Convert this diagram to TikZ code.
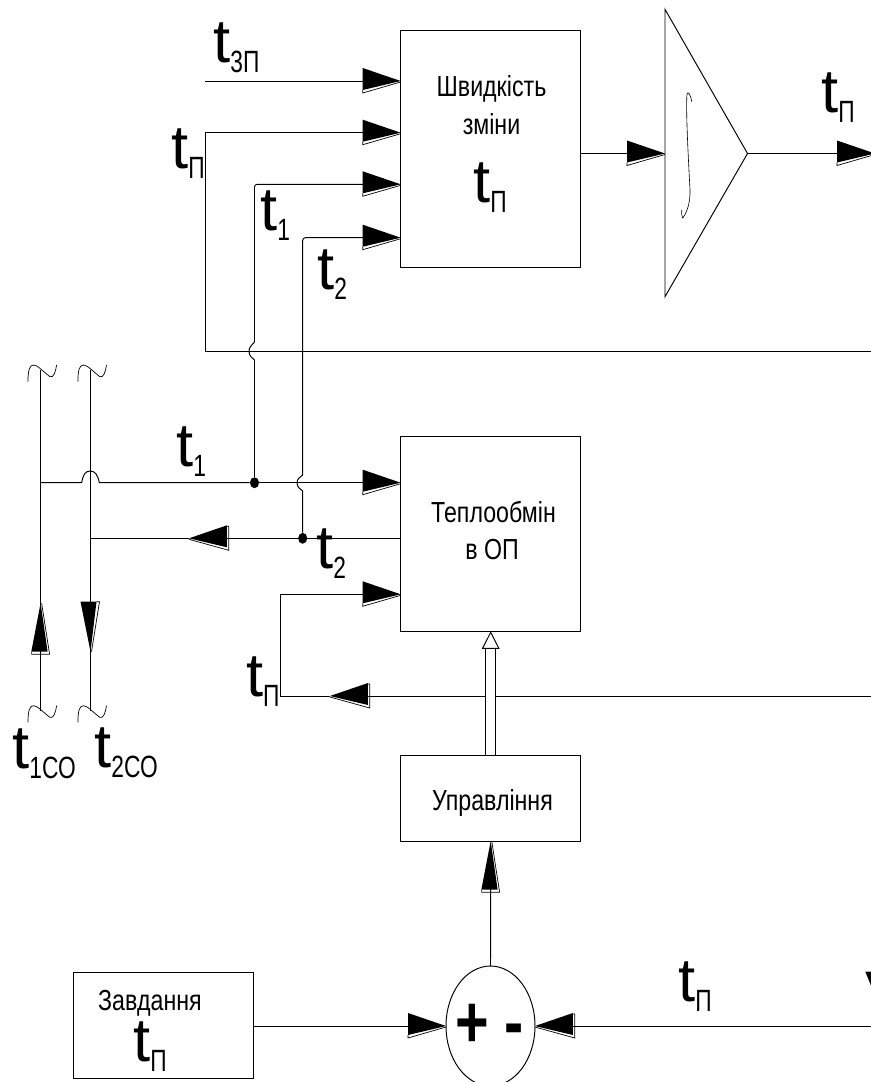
\documentclass[tikz,border=0pt]{standalone}
\usepackage{fontspec}
\setmainfont{Liberation Sans}
\newfontfamily\boxfont{Liberation Sans}[FakeStretch=0.8]
\newfontfamily\subfont{Liberation Sans}[FakeStretch=0.74]
\newfontfamily\signfont{Liberation Sans}[FakeStretch=0.78]
\usetikzlibrary{arrows.meta,shapes.geometric}
\newcommand{\tlab}[1]{{\fontsize{35}{35}\selectfont t}\raisebox{-5.7pt}{\subfont\fontsize{17.5}{18}\selectfont #1}}
\newcommand{\boxtext}[1]{{\boxfont\fontsize{16.5}{20}\selectfont #1}}
\newcommand{\declarehead}[8]{\pgfdeclarearrow{name=#1,
	setup code={\pgfarrowssettipend{0pt}\pgfarrowssetlineend{-15pt}\pgfarrowssetbackend{-21pt}},
	drawing code={
		\pgfsetdash{}{0pt}\pgfsetmiterjoin\pgfsetlinewidth{0.4pt}
		\pgfpathmoveto{\pgfpoint{-#2*0.569pt}{#3*0.569pt}}
		\pgfpathlineto{\pgfpoint{0pt}{0pt}}
		\pgfpathlineto{\pgfpoint{-#2*0.569pt}{#4*0.569pt}}
		\pgfpathclose\pgfusepathqfill
		\pgfpathmoveto{\pgfpoint{-#2*0.569pt}{#6*0.569pt}}
		\pgfpathlineto{\pgfpoint{-#5*0.569pt}{#6*0.569pt}}
		\pgfpathlineto{\pgfpoint{-#5*0.569pt}{#7*0.569pt}}
		\pgfpathlineto{\pgfpoint{0pt}{#8*0.569pt}}
		\pgfusepathqstroke}}}
\declarehead{headE}{38}{13}{-9}{38}{-9}{-12}{-1}
\declarehead{headW}{38}{-13}{9}{39.7}{-12}{12}{1}
\declarehead{headN}{48.7}{9.3}{-7}{51.3}{9}{-9}{-1}
\declarehead{headS}{50}{-10}{6}{50}{6}{9}{1}
\tikzset{
	wire/.style={line width=0.55pt},
	block/.style={draw,line width=0.55pt,rectangle,inner sep=0pt,outer sep=0pt},
	labeltext/.style={anchor=base west,inner sep=0pt},
	boxlabel/.style={anchor=base,inner sep=0pt},
	junction/.style={fill=black,ellipse,inner sep=0pt,minimum width=5.2pt,minimum height=6.2pt},
	hollow/.style={double,double distance=5pt,line width=0.55pt,
		-{Triangle[open,fill=white,length=10pt,width=10pt,line width=0.55pt]}},
	wave/.pic={\draw[line width=0.4pt] (-12.6,11.6) .. controls (-12.6,0) and (-11,-5) .. (-7,-5)
		.. controls (-3,-5) and (3,2) .. (9.4,6.7) .. controls (13,8) and (15,2) .. (16,-5);}
}

\begin{document}
\begin{tikzpicture}[x=0.02cm,y=-0.02cm]
		%%%%% START %%%%%
		\useasboundingbox (0,0) rectangle (870,1082);
		
		\node[block,minimum width=3.6cm,minimum height=4.74cm] (rate) at (490.7,149.2) {};
		\node[block,minimum width=3.6cm,minimum height=3.9cm] (exch) at (490.7,533.7) {};
		\node[block,minimum width=3.6cm,minimum height=1.72cm] (ctrl) at (490.7,798) {};
		\node[block,minimum width=3.6cm,minimum height=2.126cm] (task) at (163.3,1025.8) {};
		\node[draw,ellipse,line width=0.55pt,inner sep=0pt,outer sep=0pt,minimum width=1.78cm,minimum height=2.4cm] (sum) at (490.5,1026) {};
		\node[inner sep=0pt,font=\signfont\bfseries\fontsize{42}{42}\selectfont] (sumtext) at (489.5,1026) {+ -};
		
		\node[boxlabel] (ratetext) at (491.5,96.7) {\boxtext{Швидкість}};
		\node[boxlabel] (ratetextb) at (491.5,134) {\boxtext{зміни}};
		\node[boxlabel] (exchtext) at (493.5,522.7) {\boxtext{Теплообмін}};
		\node[boxlabel] (exchtextb) at (492,559) {\boxtext{в ОП}};
		\node[boxlabel] (ctrltext) at (492.5,810.7) {\boxtext{Управління}};
		\node[boxlabel] (tasktext) at (150,1010) {\boxtext{Завдання}};
		
		\node[labeltext] (lzp) at (213,62) {\tlab{3П}};
		\node[labeltext] (lpa) at (171,168) {\tlab{П}};
		\node[labeltext] (loa) at (260,230) {\tlab{1}};
		\node[labeltext] (lta) at (317,289) {\tlab{2}};
		\node[labeltext] (lrate) at (473,202.7) {\tlab{П}};
		\node[labeltext] (lout) at (821,112) {\tlab{П}};
		\node[labeltext] (lob) at (176,466) {\tlab{1}};
		\node[labeltext] (ltb) at (316,568) {\tlab{2}};
		\node[labeltext] (lpb) at (245.7,696.7) {\tlab{П}};
		\node[labeltext] (lsup) at (12,768) {\tlab{1СО}};
		\node[labeltext] (lret) at (94,767) {\tlab{2СО}};
		\node[labeltext] (ltask) at (133,1061.7) {\tlab{П}};
		\node[labeltext] (lfb) at (678,1001) {\tlab{П}};
		\node[labeltext,font=\fontsize{35}{35}\selectfont] (lcut) at (865,1014) {V};
		
		% integrator
		\coordinate (intin) at (665,153.5);
		\coordinate (inttop) at (665,9.3);
		\coordinate (intbot) at (665,296.7);
		\coordinate (intout) at (747.5,153.5);
		\coordinate (outend) at (875,153.5);
		\draw[wire] (inttop) -- (intbot) -- (intout) -- cycle;
		\draw[line width=0.35pt] (691.7,101.7) .. controls (690.5,94) and (688,91) .. (687,94)
			.. controls (685.5,110) and (689,170) .. (690,190) .. controls (690.5,204) and (686,214) .. (682.7,218)
			.. controls (681.5,216) and (681.5,213) .. (681.7,210);
		\draw[wire,-headE] (rate.east |- intin) -- (intin);
		\draw[wire,-headE] (intout) -- (outend);
		
		% inputs of the rate block
		\coordinate (zpin) at (205,81);
		\coordinate (pcorner) at (205,132.7);
		\coordinate (pdown) at (205,351);
		\coordinate (pend) at (875,351);
		\coordinate (oacorner) at (254.5,184.3);
		\coordinate (tacorner) at (302.7,237.7);
		\draw[wire,-headE] (zpin) -- (rate.west |- zpin);
		\draw[wire,-headE] (pend) -- (pdown) -- (pcorner) -- (rate.west |- pcorner);
		
		% mains
		\coordinate (supa) at (40.6,370);
		\coordinate (supb) at (40.6,710.7);
		\coordinate (supt) at (40.6,603);
		\coordinate (reta) at (90.5,370);
		\coordinate (retb) at (90.5,710.7);
		\coordinate (rett) at (90.5,651.7);
		\pic at (supa) {wave};
		\pic at (reta) {wave};
		\pic at (supb) {wave};
		\pic at (retb) {wave};
		\draw[wire] (supa) -- (supb);
		\draw[wire] (reta) -- (retb);
		\draw[wire,-headN] (supb) -- (supt);
		\draw[wire,-headS] (reta) -- (rett);
		
		\node[junction] (dota) at (254.5,482.7) {};
		\node[junction] (dotb) at (302.7,538.3) {};
		\coordinate (supl) at (40.6,482.7);
		\coordinate (retl) at (90.5,538.3);
		\coordinate (rettip) at (189,538.3);
		\draw[wire] (supl) -- (81.7,482.7) .. controls (83,475) and (85,471) .. (90.3,471)
			.. controls (95,471) and (98,475) .. (99.3,482.7) -- (dota);
		\draw[wire,-headE] (dota) -- (exch.west |- dota);
		\draw[wire] (dota) -- (254.5,360) .. controls (252,358) and (249,356) .. (249,351)
			.. controls (249,347) and (252,345) .. (254.5,342) -- (254.5,200);
		\draw[wire,-headE,rounded corners=1.5pt] (254.5,200) -- (oacorner) -- (rate.west |- oacorner);
		\draw[wire] (dotb) -- (302.7,491) .. controls (300,489) and (297,487) .. (297,482.7)
			.. controls (297,479) and (300,477) .. (302.7,475) -- (302.7,250);
		\draw[wire,-headE,rounded corners=1.5pt] (302.7,250) -- (tacorner) -- (rate.west |- tacorner);
		\draw[wire,-headW] (exch.west |- dotb) -- (rettip);
		\draw[wire] (rettip) -- (retl);
		
		% feedback
		\coordinate (fbend) at (875,696);
		\coordinate (fbtip) at (330,696);
		\coordinate (fbcorner) at (280.7,696);
		\coordinate (fbup) at (280.7,594.3);
		\draw[wire,-headW] (fbend) -- (fbtip);
		\draw[wire,-headE] (fbtip) -- (fbcorner) -- (fbup) -- (exch.west |- fbup);
		\draw[hollow] (ctrl.north) -- (exch.south);
		
		% set point
		\coordinate (fbin) at (875,1026);
		\draw[wire,-headE] (task.east |- sum.west) -- (sum.west);
		\draw[wire,-headW] (fbin) -- (sum.east);
		\draw[wire,-headN] (sum.north) -- (ctrl.south);
		
		%%%%% END %%%%%
	\end{tikzpicture}
\end{document}
